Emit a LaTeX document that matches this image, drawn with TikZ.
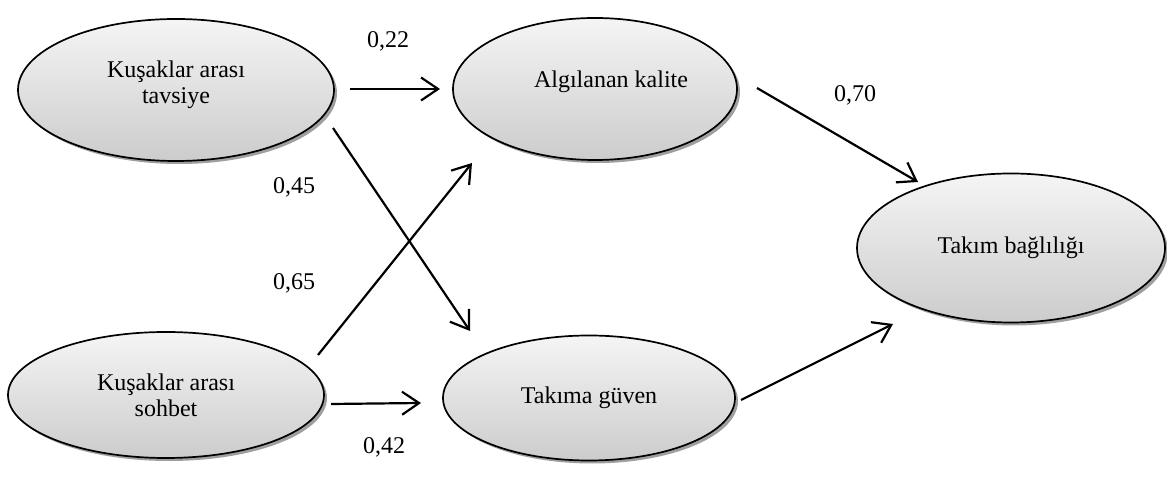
\documentclass[tikz,border=0pt]{standalone}
\usepackage{fontspec}
\setmainfont{Liberation Serif}
\usetikzlibrary{shapes.geometric,arrows.meta,shadows}
\tikzset{
  latent/.style={ellipse, draw=black, line width=1.7pt, inner sep=0pt,
    top color=gray!8, bottom color=gray!40,
    drop shadow={shadow xshift=3pt, shadow yshift=-3pt, fill=gray!75, opacity=1},
    align=center, font=\fontsize{24}{26}\selectfont},
  intext/.style={align=center, font=\fontsize{24}{26}\selectfont},
  path/.style={line width=2.2pt, -{Straight Barb[length=17pt,width=23pt,line width=2.2pt]}},
  coef/.style={font=\fontsize{24}{27}\selectfont}
}
\begin{document}
\begin{tikzpicture}[x=1pt,y=1pt]
\useasboundingbox (0,0) rectangle (1167,478);
\node[latent, minimum width=316pt, minimum height=142pt,
  label={[intext, yshift=5pt]center:Kuşaklar arası\\tavsiye}] (e1) at (176,388) {};
\node[latent, minimum width=284pt, minimum height=142pt,
  label={[intext, xshift=16pt, yshift=7pt]center:Algılanan kalite}] (e2) at (595,389) {};
\node[latent, minimum width=308pt, minimum height=149pt] (e3) at (1011,230) {Takım bağlılığı};
\node[latent, minimum width=316pt, minimum height=126pt] (e4) at (166,83) {Kuşaklar arası\\sohbet};
\node[latent, minimum width=292pt, minimum height=125pt] (e5) at (589,80) {Takıma güven};
% connector end points
\coordinate (a1s) at (350,389); \coordinate (a1e) at (440,389);
\coordinate (a2s) at (333,350); \coordinate (a2e) at (470,147);
\coordinate (a3s) at (318,123); \coordinate (a3e) at (472,315);
\coordinate (a4s) at (331,74);  \coordinate (a4e) at (421,75);
\coordinate (a5s) at (757,390); \coordinate (a5e) at (918,296);
\coordinate (a6s) at (741,78);  \coordinate (a6e) at (893,154);
\draw[path] (a1s) -- (a1e);
\draw[path] (a2s) -- (a2e);
\draw[path] (a3s) -- (a3e);
\draw[path] (a4s) -- (a4e);
\draw[path] (a5s) -- (a5e);
\draw[path] (a6s) -- (a6e);
\node[coef] (c1) at (388,437) {0,22};
\node[coef] (c2) at (855,383) {0,70};
\node[coef] (c3) at (294,291) {0,45};
\node[coef] (c4) at (294,195) {0,65};
\node[coef] (c5) at (384,31) {0,42};
\end{tikzpicture}
\end{document}
